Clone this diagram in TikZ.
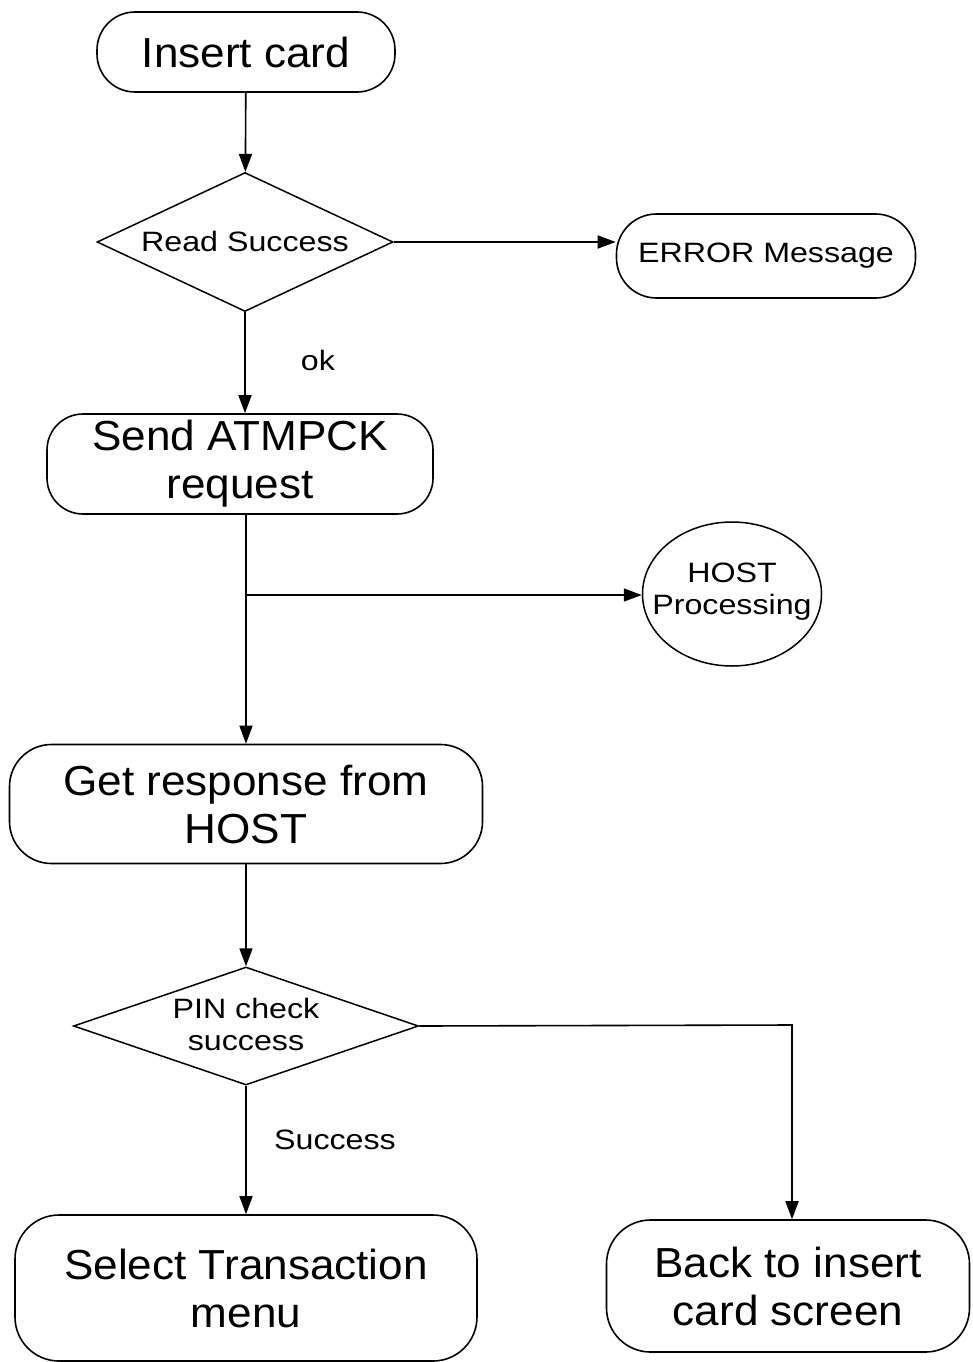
\documentclass[tikz,border=0pt]{standalone}
\usepackage{fontspec}
\setmainfont{Liberation Sans}[FakeStretch=1.05]
\newfontfamily\narrowlabel{Liberation Sans}[FakeStretch=1.15]
\usetikzlibrary{shapes.geometric,arrows.meta}
\begin{document}
\begin{tikzpicture}[x=1pt,y=-1pt,
  bigtext/.style={font=\fontsize{42}{48}\selectfont},
  smalltext/.style={font=\narrowlabel\fontsize{28}{32}\selectfont},
  box/.style={draw, line width=1.6pt, rounded corners=#1, align=center, inner sep=0pt},
  box/.default=38pt,
  decision/.style={draw, diamond, line width=1.5pt, inner sep=0pt},
  oval/.style={draw, ellipse, line width=1.5pt, inner sep=0pt},
  label/.style={inner sep=0pt, align=center},
  conn/.style={line width=1.6pt, -{Triangle[length=18pt,width=13pt]}}
]
\useasboundingbox (0,0) rectangle (973,1362);

% process steps and decisions
\node[box=38pt, bigtext, minimum width=298pt, minimum height=80pt] (ins) at (246,52) {Insert card};
\node[decision, minimum width=296pt, minimum height=139pt] (rs) at (245,242) {};
\node[label, smalltext] (rstext) at (245,241) {Read Success};
\node[box=40pt, smalltext, minimum width=299pt, minimum height=84pt] (err) at (766,256) {ERROR Message};
\node[label, smalltext] (ok) at (318,360) {ok};
\node[box=36pt, bigtext, minimum width=386pt, minimum height=100pt] (snd) at (240,464) {Send ATMPCK\\request};
\node[oval, minimum width=179pt, minimum height=144pt] (host) at (732,594) {};
\node[label, smalltext] (hosttext) at (732,592) {HOST\\Processing};
\node[box=42pt, bigtext, minimum width=473pt, minimum height=119pt] (get) at (246,804) {Get response from\\HOST};
\node[decision, minimum width=345pt, minimum height=118pt] (pin) at (246,1026) {};
\node[label, smalltext] (pintext) at (246,1024) {PIN check\\success};
\node[label, smalltext] (succ) at (335,1140) {Success};
\node[box=44pt, bigtext, minimum width=462pt, minimum height=146pt] (sel) at (246,1288) {Select Transaction\\menu};
\node[box=44pt, bigtext, minimum width=363pt, minimum height=132pt] (back) at (788,1286) {Back to insert\\card screen};

% connectors
\coordinate (fork) at (246,595);
\coordinate (turn) at (792,1025);
\draw[conn] (ins) -- (rs);
\draw[conn] (rs.east) -- (rs.east -| err.west);
\draw[conn] (rs.south) -- (rs.south |- snd.north);
\draw[conn] (snd.south -| fork) -- (get.north);
\draw[conn] (fork) -- (fork -| host.west);
\draw[conn] (get) -- (pin);
\draw[conn] (pin.south) -- (sel.north);
\draw[conn] (pin.east) -- (turn) -- (turn |- back.north);
\end{tikzpicture}
\end{document}
